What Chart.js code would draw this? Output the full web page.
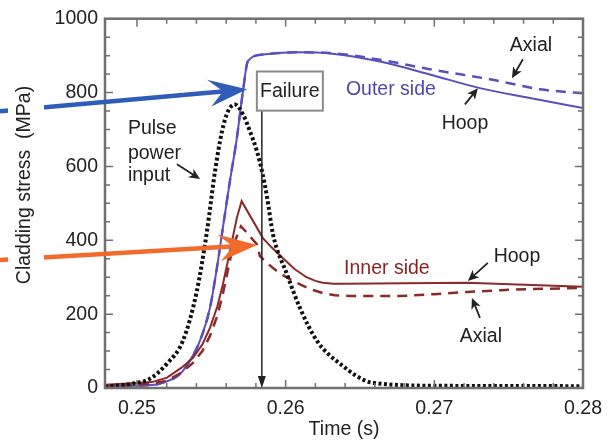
<!DOCTYPE html>
<html>
<head>
<meta charset="utf-8">
<script src="https://cdn.jsdelivr.net/npm/chart.js@4.4.1/dist/chart.umd.min.js"></script>
<style>
  html, body { margin: 0; padding: 0; background: #fff; }
</style>
</head>
<body>
<canvas id="myChart" width="615" height="445"></canvas>
<script>
// --- data (time in s, stress in MPa) ---
const outerHoopT = [0.24785, 0.2510, 0.25155, 0.25289, 0.25356, 0.25424, 0.25491, 0.25538, 0.25578, 0.25625, 0.25672, 0.25713, 0.25746, 0.25847, 0.26076, 0.26298, 0.26634, 0.26970, 0.27307, 0.27643, 0.28];
const outerHoop  = [5, 8, 12, 38, 74, 128, 217, 326, 434, 560, 677, 804, 885, 903, 909, 906, 884, 849, 812, 785, 758];

const outerAxialT = [0.24785, 0.2510, 0.25155, 0.25289, 0.25356, 0.25424, 0.25491, 0.25538, 0.25578, 0.25625, 0.25672, 0.25713, 0.25746, 0.25847, 0.26076, 0.26298, 0.26634, 0.26970, 0.27374, 0.27710, 0.28];
const outerAxial  = [5, 8, 12, 38, 74, 128, 217, 326, 434, 560, 677, 804, 885, 903, 909, 907, 889, 863, 836, 809, 798];

const innerHoopT = [0.24785, 0.2510, 0.25202, 0.2530, 0.25377, 0.2544, 0.25491, 0.2554, 0.25578, 0.25625, 0.25672, 0.25704, 0.25847, 0.2590, 0.2598, 0.2606, 0.2614, 0.2620, 0.2625, 0.2632, 0.26385, 0.27219, 0.28];
const innerHoop  = [9, 16, 28, 55, 82, 118, 163, 220, 281, 370, 461, 506, 406, 383, 352, 322, 300, 290, 285, 282, 282, 285, 274];

const innerAxialT = [0.24785, 0.2510, 0.25202, 0.2530, 0.25377, 0.2544, 0.25491, 0.2554, 0.25578, 0.25646, 0.2570, 0.25807, 0.25827, 0.2587, 0.25915, 0.2597, 0.26029, 0.2610, 0.26163, 0.2625, 0.2633, 0.26432, 0.26769, 0.2700, 0.27219, 0.2745, 0.27663, 0.28];
const innerAxial  = [6, 12, 20, 42, 68, 100, 141, 195, 255, 385, 438, 389, 357, 340, 325, 308, 295, 280, 268, 257, 251, 249, 249, 254, 260, 265, 268, 271];

const pulseT = [0.24785, 0.24973, 0.25087, 0.25202, 0.25309, 0.25403, 0.25471, 0.25525, 0.25572, 0.25612, 0.25659, 0.25713, 0.25760, 0.25807, 0.25841, 0.25874, 0.25915, 0.26009, 0.26096, 0.26210, 0.26365, 0.26587, 0.27038, 0.28];
const pulse  = [3, 12, 25, 66, 128, 263, 425, 587, 695, 749, 768, 741, 695, 641, 587, 519, 416, 308, 217, 128, 66, 14, 6, 5];

const xTicks = [0.25, 0.26, 0.27, 0.28];
const yTicks = [0, 200, 400, 600, 800, 1000];
const failureTime = 0.2584;

const FONT = 'Liberation Sans, Arial, Helvetica, sans-serif';
const BLUE = '#5a50bd';
const RED = '#8b2a2a';

function pts(ts, vs) { return ts.map((t, i) => ({ x: t, y: vs[i] })); }

// small text notes and pointer arrows, placed in data units
const notes = [
  { text: 'Axial', t: 0.27650, v: 928 },
  { text: 'Outer side', t: 0.26708, v: 809, color: '#5048b0' },
  { text: 'Hoop', t: 0.27206, v: 717 },
  { text: 'Pulse', t: 0.24939, v: 703, align: 'left' },
  { text: 'power', t: 0.24939, v: 636, align: 'left' },
  { text: 'input', t: 0.24939, v: 574, align: 'left' },
  { text: 'Inner side', t: 0.26681, v: 322, color: '#8b2222' },
  { text: 'Hoop', t: 0.27556, v: 355 },
  { text: 'Axial', t: 0.27313, v: 139 }
];
const pointers = [
  [0.27596, 890, 0.27522, 839],
  [0.27206, 768, 0.27293, 812],
  [0.25269, 606, 0.25424, 566],
  [0.27360, 339, 0.27226, 290],
  [0.27307, 190, 0.27253, 244]
];

function smallArrow(ctx, x0, y0, x1, y1) {
  const a = Math.atan2(y1 - y0, x1 - x0);
  const len = Math.hypot(x1 - x0, y1 - y0);
  ctx.save();
  ctx.translate(x1, y1);
  ctx.rotate(a);
  ctx.strokeStyle = '#222';
  ctx.fillStyle = '#222';
  ctx.lineWidth = 1.8;
  ctx.beginPath(); ctx.moveTo(-len, 0); ctx.lineTo(-6, 0); ctx.stroke();
  ctx.beginPath();
  ctx.moveTo(0, 0); ctx.lineTo(-11, -5); ctx.lineTo(-8, 0); ctx.lineTo(-11, 5);
  ctx.closePath(); ctx.fill();
  ctx.restore();
}

function bigArrow(ctx, x0, y0, x1, y1, color) {
  const a = Math.atan2(y1 - y0, x1 - x0);
  const len = Math.hypot(x1 - x0, y1 - y0);
  ctx.save();
  ctx.translate(x1, y1);
  ctx.rotate(a);
  ctx.strokeStyle = color;
  ctx.fillStyle = color;
  ctx.lineWidth = 4.5;
  ctx.beginPath(); ctx.moveTo(-len, 0); ctx.lineTo(-22, 0); ctx.stroke();
  ctx.beginPath();
  ctx.moveTo(0, 0); ctx.lineTo(-39, -13); ctx.lineTo(-24, 0); ctx.lineTo(-37, 14);
  ctx.closePath(); ctx.fill();
  ctx.restore();
}

const decor = {
  id: 'decor',
  afterDatasetsDraw(chart) {
    const { ctx, chartArea: ca, scales: { x, y } } = chart;
    ctx.save();

    // frame with inward ticks on all four sides
    ctx.strokeStyle = '#707070';
    ctx.lineWidth = 1.5;
    for (let v = 0; v <= 1000; v += 50) {
      const py = y.getPixelForValue(v);
      const l = v % 200 === 0 ? 8 : 5;
      ctx.beginPath();
      ctx.moveTo(ca.left, py); ctx.lineTo(ca.left + l, py);
      ctx.moveTo(ca.right, py); ctx.lineTo(ca.right - l, py);
      ctx.stroke();
    }
    for (let i = 0; i <= 16; i++) {
      const t = 0.248 + i * 0.002;
      const px = x.getPixelForValue(t);
      if (px < ca.left + 3 || px > ca.right - 3) continue;
      const l = i % 5 === 1 ? 8 : 5;
      ctx.beginPath();
      ctx.moveTo(px, ca.bottom); ctx.lineTo(px, ca.bottom - l);
      ctx.moveTo(px, ca.top); ctx.lineTo(px, ca.top + l);
      ctx.stroke();
    }
    ctx.lineWidth = 2.5;
    ctx.strokeRect(ca.left, ca.top, ca.right - ca.left, ca.bottom - ca.top);

    // failure marker
    const fx = x.getPixelForValue(failureTime);
    const boxTop = y.getPixelForValue(857), boxBot = y.getPixelForValue(751);
    ctx.strokeStyle = '#222';
    ctx.fillStyle = '#222';
    ctx.lineWidth = 1.5;
    ctx.beginPath(); ctx.moveTo(fx, boxBot); ctx.lineTo(fx, ca.bottom - 8); ctx.stroke();
    ctx.beginPath();
    ctx.moveTo(fx, ca.bottom); ctx.lineTo(fx - 4, ca.bottom - 12); ctx.lineTo(fx + 4, ca.bottom - 12);
    ctx.closePath(); ctx.fill();
    ctx.fillStyle = '#fff';
    ctx.fillRect(fx - 5, boxTop, 66, boxBot - boxTop);
    ctx.strokeStyle = '#8a8a8a';
    ctx.lineWidth = 2;
    ctx.strokeRect(fx - 5, boxTop, 66, boxBot - boxTop);
    ctx.fillStyle = '#222';
    ctx.font = '19.5px ' + FONT;
    ctx.textAlign = 'center';
    ctx.textBaseline = 'middle';
    ctx.fillText('Failure', fx + 28, (boxTop + boxBot) / 2 + 1);

    // notes
    notes.forEach(n => {
      ctx.fillStyle = n.color || '#222';
      ctx.textAlign = n.align || 'center';
      ctx.fillText(n.text, x.getPixelForValue(n.t), y.getPixelForValue(n.v));
    });
    pointers.forEach(p => smallArrow(ctx,
      x.getPixelForValue(p[0]), y.getPixelForValue(p[1]),
      x.getPixelForValue(p[2]), y.getPixelForValue(p[3])));

    // big coloured arrows coming in from the left
    const bx = x.getPixelForValue(0.25740), by = y.getPixelForValue(809);
    bigArrow(ctx, 0, by + 22, bx, by, '#2f5cb8');
    const ox = x.getPixelForValue(0.25807), oy = y.getPixelForValue(387);
    bigArrow(ctx, 0, oy + 15, ox, oy, '#f26b2a');

    // y axis title on a white band
    ctx.fillStyle = '#fff';
    ctx.fillRect(8, 76, 36, 218);
    ctx.translate(25, 185);
    ctx.rotate(-Math.PI / 2);
    ctx.fillStyle = '#222';
    ctx.textAlign = 'center';
    ctx.fillText('Cladding stress  (MPa)', 0, 0);
    ctx.restore();
  }
};

const ctx = document.getElementById('myChart');

new Chart(ctx, {
  type: 'line',
  data: {
    datasets: [
      { data: pts(pulseT, pulse), borderColor: '#111', borderWidth: 4, borderDash: [3, 2.5] },
      { data: pts(innerAxialT, innerAxial), borderColor: RED, borderWidth: 2.5, borderDash: [10, 7],
        cubicInterpolationMode: 'default', tension: 0 },
      { data: pts(innerHoopT, innerHoop), borderColor: RED, borderWidth: 2,
        cubicInterpolationMode: 'default', tension: 0 },
      { data: pts(outerAxialT, outerAxial), borderColor: BLUE, borderWidth: 2.5, borderDash: [10, 7] },
      { data: pts(outerHoopT, outerHoop), borderColor: BLUE, borderWidth: 2 }
    ]
  },
  options: {
    responsive: false,
    animation: false,
    devicePixelRatio: 1,
    cubicInterpolationMode: 'monotone',
    elements: { point: { radius: 0 }, line: { fill: false } },
    layout: { padding: { left: 0, top: 17, right: 32, bottom: 0 } },
    plugins: { legend: { display: false }, tooltip: { enabled: false } },
    scales: {
      x: {
        type: 'linear',
        min: 0.24785,
        max: 0.28,
        grid: { display: false, drawTicks: false },
        border: { display: false },
        afterBuildTicks: s => { s.ticks = xTicks.map(v => ({ value: v })); },
        afterFit: s => { s.height = 57; },
        ticks: {
          padding: 9,
          color: '#222',
          font: { family: FONT, size: 19.5 },
          callback: v => v.toFixed(2),
          maxRotation: 0
        },
        title: {
          display: true,
          text: 'Time (s)',
          color: '#222',
          font: { family: FONT, size: 19.5 },
          padding: { top: 0, bottom: 4 }
        }
      },
      y: {
        min: 0,
        max: 1000,
        grid: { display: false, drawTicks: false },
        border: { display: false },
        afterBuildTicks: s => { s.ticks = yTicks.map(v => ({ value: v })); },
        afterFit: s => { s.width = 105; },
        ticks: {
          padding: 7,
          color: '#222',
          font: { family: FONT, size: 19.5 },
          callback: v => String(v)
        }
      }
    }
  },
  plugins: [decor]
});
</script>
</body>
</html>
